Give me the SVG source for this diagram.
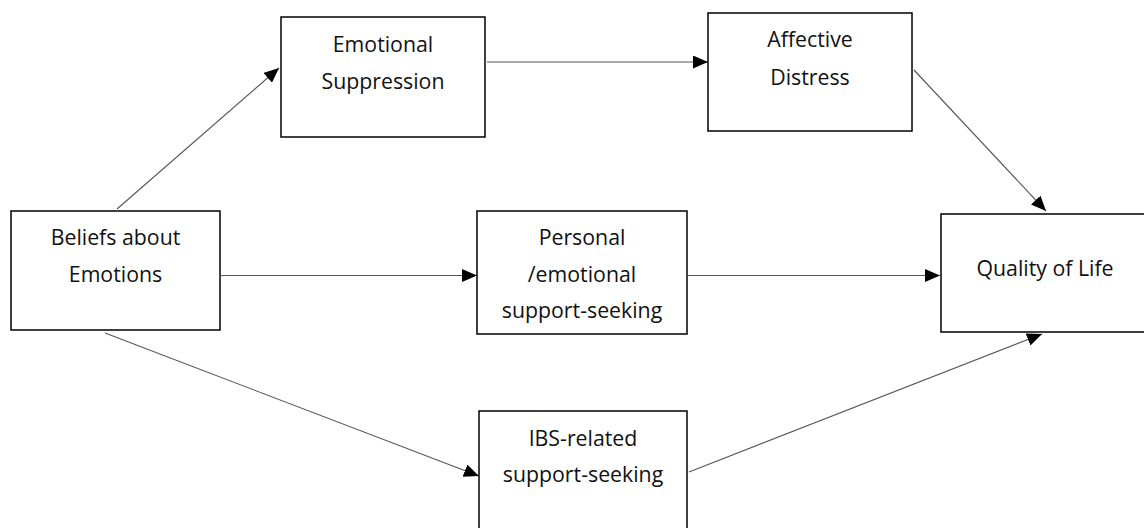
<svg xmlns="http://www.w3.org/2000/svg" width="1144" height="528" viewBox="0 0 1144 528">
<defs>
<marker id="ah" viewBox="0 0 15 13" refX="15" refY="6.5" markerWidth="15" markerHeight="13" markerUnits="userSpaceOnUse" orient="auto">
<path d="M0,0 L15,6.5 L0,13 z" fill="#000"/>
</marker>
</defs>
<style>
.box{fill:#fff;stroke:#000;stroke-width:1.5}
.t{font-family:"Open Sans","Liberation Sans",sans-serif;font-size:21.3px;fill:#111;text-anchor:middle}
.c{stroke:#555;stroke-width:1.1;fill:none;marker-end:url(#ah)}
</style>
<rect width="1144" height="528" fill="#fff"/>
<g id="connectors">
<line class="c" x1="117" y1="209" x2="279" y2="68"/>
<line class="c" x1="487" y1="62" x2="708" y2="62"/>
<line class="c" x1="914" y1="70" x2="1046" y2="211"/>
<line class="c" x1="221" y1="275.5" x2="477" y2="275.5"/>
<line class="c" x1="688" y1="275.5" x2="940" y2="275.5"/>
<line class="c" x1="105" y1="333" x2="479" y2="476"/>
<line class="c" x1="689" y1="472" x2="1042" y2="334"/>
</g>
<g id="beliefs">
<rect class="box" x="11" y="211" width="209" height="119"/>
<text class="t" x="115.5" y="245">Beliefs about</text>
<text class="t" x="115.5" y="282">Emotions</text>
</g>
<g id="suppression">
<rect class="box" x="281" y="17" width="204" height="120"/>
<text class="t" x="383" y="52">Emotional</text>
<text class="t" x="383" y="88.5">Suppression</text>
</g>
<g id="distress">
<rect class="box" x="708" y="13" width="204" height="118"/>
<text class="t" x="810" y="47">Affective</text>
<text class="t" x="810" y="85">Distress</text>
</g>
<g id="personal">
<rect class="box" x="477" y="211" width="210" height="123"/>
<text class="t" x="582" y="245">Personal</text>
<text class="t" x="582" y="282">/emotional</text>
<text class="t" x="582" y="318">support-seeking</text>
</g>
<g id="ibs">
<rect class="box" x="479" y="411" width="208" height="130"/>
<text class="t" x="583" y="446">IBS-related</text>
<text class="t" x="583" y="482">support-seeking</text>
</g>
<g id="qol">
<rect class="box" x="941" y="214" width="210" height="118"/>
<text class="t" x="1045" y="276">Quality of Life</text>
</g>
</svg>
